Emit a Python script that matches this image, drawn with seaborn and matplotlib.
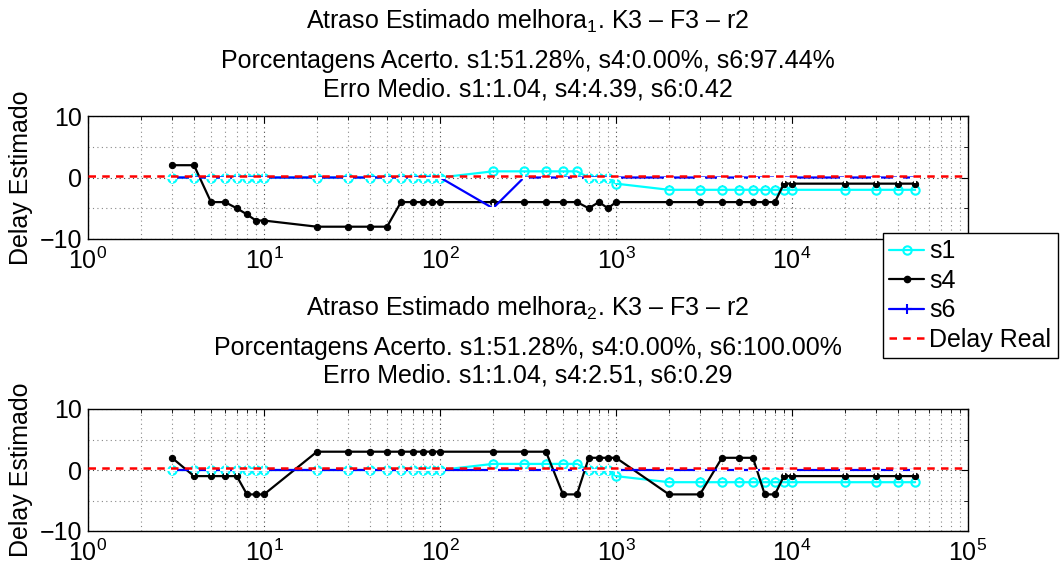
import numpy as np
import pandas as pd
import matplotlib
matplotlib.use("Agg")
import matplotlib.pyplot as plt
from matplotlib.ticker import (LogLocator, FixedLocator, NullFormatter,
                               LogFormatterSciNotation, FuncFormatter)
from matplotlib.lines import Line2D
import seaborn as sns

# Step sizes (x axis, log scale)
x_vals = [3, 4, 5, 6, 7, 8, 9, 10, 20, 30, 40, 50, 60, 70, 80, 90, 100,
          200, 300, 400, 500, 600, 700, 800, 900, 1000,
          2000, 3000, 4000, 5000, 6000, 7000, 8000, 9000, 10000,
          20000, 30000, 40000, 50000]

delay_real = 0.29

# melhora 1
s1_m1 = [0, 0, 0, 0, 0, 0, 0, 0, 0, 0, 0, 0, 0, 0, 0, 0, 0,
         1, 1, 1, 1, 1, 0, 0, 0, -1,
         -2, -2, -2, -2, -2, -2, -2, -2, -2,
         -2, -2, -2, -2]
s4_m1 = [2, 2, -4, -4, -5, -6, -7, -7, -8, -8, -8, -8, -4, -4, -4, -4, -4,
         -4, -4, -4, -4, -4, -5, -4, -5, -4,
         -4, -4, -4, -4, -4, -4, -4, -1, -1,
         -1, -1, -1, -1]
s6_m1 = [0, 0, 0, 0, 0, 0, 0, 0, 0, 0, 0, 0, 0, 0, 0, 0, 0,
         -5, 0, 0, 0, 0, 0, 0, 0, 0,
         0, 0, 0, 0, 0, 0, 0, 0, 0,
         0, 0, 0, 0]

# melhora 2
s1_m2 = list(s1_m1)
s4_m2 = [2, -1, -1, -1, -1, -4, -4, -4, 3, 3, 3, 3, 3, 3, 3, 3, 3,
         3, 3, 3, -4, -4, 2, 2, 2, 2,
         -4, -4, 2, 2, 2, -4, -4, -1, -1,
         -1, -1, -1, -1]
s6_m2 = [0] * 39

titles_m1 = ["Atraso Estimado melhora$_1$. K3 \u2013 F3 \u2013 r2",
             "Porcentagens Acerto. s1:51.28%, s4:0.00%, s6:97.44%",
             "Erro Medio. s1:1.04, s4:4.39, s6:0.42"]
titles_m2 = ["Atraso Estimado melhora$_2$. K3 \u2013 F3 \u2013 r2",
             "Porcentagens Acerto. s1:51.28%, s4:0.00%, s6:100.00%",
             "Erro Medio. s1:1.04, s4:2.51, s6:0.29"]

ylabel = "Delay Estimado"
legend_labels = ["s1", "s4", "s6", "Delay Real"]

sns.set_theme(style="white")
plt.rcParams["font.family"] = ["Liberation Sans", "DejaVu Sans"]
plt.rcParams["mathtext.fontset"] = "custom"
plt.rcParams["mathtext.rm"] = "Liberation Sans"
plt.rcParams["mathtext.it"] = "Liberation Sans"
plt.rcParams["mathtext.bf"] = "Liberation Sans"
plt.rcParams["axes.unicode_minus"] = True
plt.rcParams["text.color"] = "black"
plt.rcParams["axes.labelcolor"] = "black"

FS = 18

fig = plt.figure(figsize=(10.62, 5.76), dpi=100)
ax1 = fig.add_axes([88 / 1062, 1 - 239 / 576, 880 / 1062, 123 / 576])
ax2 = fig.add_axes([88 / 1062, 1 - 531 / 576, 880 / 1062, 122 / 576])

styles = dict(
    s1=dict(color=(0, 1, 1), marker="o", markersize=6, markerfacecolor="none",
            markeredgecolor=(0, 1, 1), markeredgewidth=1.5, linewidth=1.6),
    s4=dict(color="black", marker="o", markersize=4.5, markerfacecolor="black",
            markeredgecolor="black", linewidth=1.6),
    s6=dict(color=(0, 0, 1), marker="+", markersize=7, markeredgewidth=1.5,
            linewidth=1.6),
)

sci = LogFormatterSciNotation()


def draw_panel(ax, s1, s4, s6, last_label=True):
    df = pd.DataFrame({"x": x_vals, "s1": s1, "s4": s4, "s6": s6})
    for name in ["s1", "s4", "s6"]:
        sns.lineplot(data=df, x="x", y=name, ax=ax, estimator=None,
                     sort=False, legend=False, **styles[name])
    ax.axhline(delay_real, color="red", linestyle=(0, (3, 2.5)), linewidth=1.8, zorder=5)
    ax.set_xscale("log")
    ax.set_xlim(1, 1e5)
    ax.set_ylim(-10, 10)
    ax.yaxis.set_major_locator(FixedLocator([-10, 0, 10]))
    ax.yaxis.set_minor_locator(FixedLocator([-5, 5]))
    ax.xaxis.set_major_locator(LogLocator(base=10, numticks=10))
    ax.xaxis.set_minor_locator(LogLocator(base=10, subs=np.arange(2, 10), numticks=20))
    if last_label:
        ax.xaxis.set_major_formatter(sci)
    else:
        # the right-most label sits under the legend box
        ax.xaxis.set_major_formatter(
            FuncFormatter(lambda v, p: "" if v >= 1e5 else sci(v, p)))
    ax.xaxis.set_minor_formatter(NullFormatter())
    ax.grid(True, which="major", color="#444444", linestyle=(0, (1, 3)), linewidth=0.8)
    ax.grid(True, which="minor", color="#888888", linestyle=(0, (1, 3)), linewidth=0.8)
    ax.set_axisbelow(True)
    ax.tick_params(which="both", direction="in", top=True, right=True,
                   labelsize=FS, colors="black")
    ax.tick_params(axis="x", which="major", pad=6)
    ax.tick_params(axis="y", which="major", pad=4)
    ax.tick_params(which="major", length=5, width=0.8)
    ax.tick_params(which="minor", length=3, width=0.6)
    for sp in ax.spines.values():
        sp.set_color("black")
        sp.set_linewidth(1.0)
    ax.set_xlabel("")
    ax.set_ylabel(ylabel, fontsize=FS)


draw_panel(ax1, s1_m1, s4_m1, s6_m1, last_label=False)
draw_panel(ax2, s1_m2, s4_m2, s6_m2)
for ax in (ax1, ax2):
    ax.yaxis.set_label_coords(-0.062, 0.5)

cx = (88 + 440) / 1062


def title_lines(lines, baselines):
    for txt, yb in zip(lines, baselines):
        fig.text(cx, 1 - yb / 576, txt, ha="center", va="baseline", fontsize=FS)


title_lines(titles_m1, [29, 68, 96])
title_lines(titles_m2, [316, 355, 383])

handles = [
    Line2D([], [], **styles["s1"]),
    Line2D([], [], **styles["s4"]),
    Line2D([], [], **styles["s6"]),
    Line2D([], [], color="red", linestyle=(0, (3, 2.5)), linewidth=1.8),
]
leg = fig.legend(handles, legend_labels, loc="upper left",
                 bbox_to_anchor=(883 / 1062, 1 - 233 / 576),
                 fontsize=FS, frameon=True, fancybox=False, framealpha=1,
                 edgecolor="black", handlelength=1.4, handletextpad=0.2,
                 borderpad=0.25, labelspacing=0.22, borderaxespad=0.0)
leg.get_frame().set_linewidth(1.0)

fig.savefig("out.png", dpi=100, facecolor="white")
